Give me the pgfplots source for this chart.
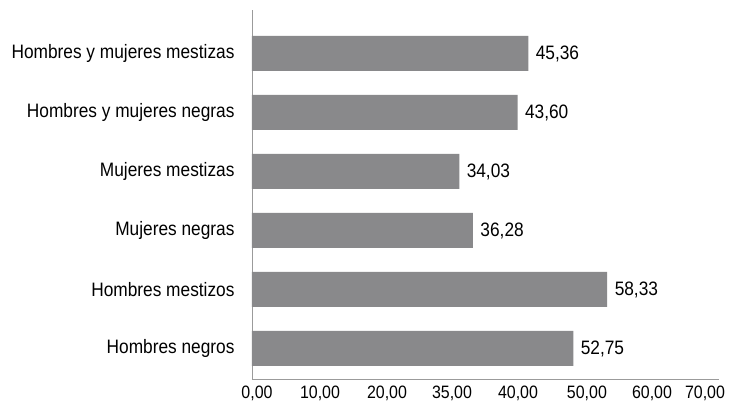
\documentclass[border=0pt]{standalone}
\usepackage{pgfplots}
\pgfplotsset{compat=1.18}
\usepackage{fontspec}
\setmainfont[FakeStretch=0.89]{Liberation Sans}
\definecolor{barcol}{RGB}{137,137,139}
\definecolor{axcol}{RGB}{155,155,155}
\begin{document}
\begin{tikzpicture}
\path[use as bounding box] (-252bp,-26bp) rectangle (480bp,379bp);
\begin{axis}[
 anchor=south west, at={(0,0)},
 scale only axis,
 width=467bp, height=369bp,
 xbar, bar width=35bp,
 xmin=0, xmax=76.68,
 ymin=-0.517, ymax=5.737,
 axis x line*=bottom, axis y line*=left,
 axis line style={draw=axcol, line width=0.8bp, -},
 major tick length=0,
 xtick={0.82,11.17,22.17,32.84,43.68,55.0,65.68,74.38},
 xticklabels={{0,00},{10,00},{20,00},{35,00},{40,00},{50,00},{60,00},{70,00}},
 ytick={0,...,5},
 yticklabels={Hombres negros, Hombres mestizos, Mujeres negras, Mujeres mestizas, Hombres y mujeres negras, Hombres y mujeres mestizas},
 yticklabel style={font=\fontsize{19.5}{22}\selectfont, xshift=-14bp},
 xticklabel style={font=\fontsize{18}{21}\selectfont, yshift=-3bp},
 nodes near coords,
 nodes near coords style={font=\fontsize{19.5}{22}\selectfont, anchor=west, xshift=4bp},
 /pgf/number format/fixed,
 /pgf/number format/fixed zerofill,
 /pgf/number format/precision=2,
 /pgf/number format/use comma,
 /pgf/number format/assume math mode=true,
]
\addplot[fill=barcol, draw=none] coordinates {
 (52.75,0) (58.33,1) (36.28,2) (34.03,3) (43.60,4) (45.36,5)
};
\end{axis}
\end{tikzpicture}
\end{document}
